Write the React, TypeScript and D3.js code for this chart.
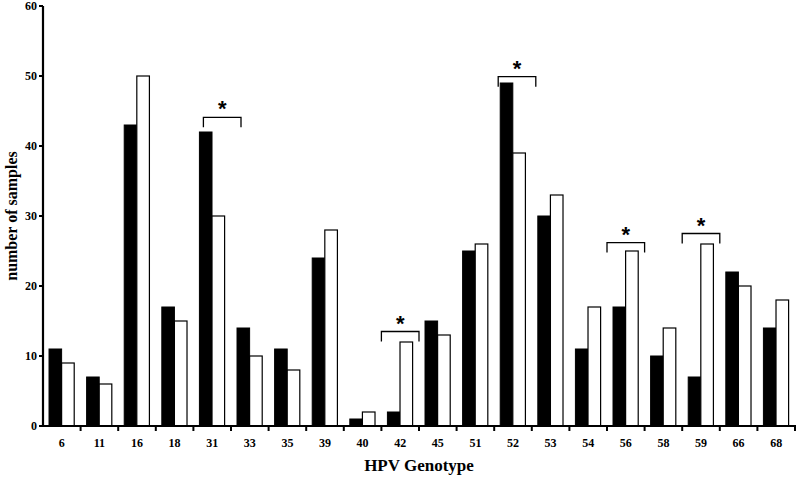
import React from "react";
import * as d3 from "d3";

const genotypes = ["6","11","16","18","31","33","35","39","40","42","45","51","52","53","54","56","58","59","66","68"];
const blackValues = [11,7,43,17,42,14,11,24,1,2,15,25,49,30,11,17,10,7,22,14];
const whiteValues = [9,6,50,15,30,10,8,28,2,12,13,26,39,33,17,25,14,26,20,18];
const yTicks = [0,10,20,30,40,50,60];
const sigGenotypes = ["31","42","52","56","59"];
const sigLevels = [44.1,13.5,49.9,26.2,27.5];
const sigShift = [10,0,4,0,0];

const W = 800, H = 477;
const left = 43, right = 795, top = 6, bottom = 426;

export default function App() {
  const x = d3.scaleBand<string>().domain(genotypes).range([left, right]).padding(0);
  const bw = x.bandwidth();
  const inner = d3.scaleBand<string>().domain(["a","b"]).range([bw * 0.16, bw * 0.83]).padding(0);
  const y = d3.scaleLinear().domain([0, 60]).range([bottom, top]);
  const font = "'Liberation Serif', 'Times New Roman', serif";

  return (
    <svg width={W} height={H} style={{ position: "absolute", left: 0, top: 0, background: "#fff" }} fontFamily={font}>
      {genotypes.map((g, i) => (
        <g key={g}>
          <rect x={(x(g) as number) + (inner("a") as number)} y={y(blackValues[i])} width={inner.bandwidth()} height={bottom - y(blackValues[i])} fill="#000" stroke="#000" strokeWidth={1} />
          <rect x={(x(g) as number) + (inner("b") as number)} y={y(whiteValues[i])} width={inner.bandwidth()} height={bottom - y(whiteValues[i])} fill="#fff" stroke="#000" strokeWidth={1.2} />
        </g>
      ))}
      {/* y axis */}
      <line x1={left} x2={left} y1={top} y2={bottom + 1} stroke="#000" strokeWidth={2.2} />
      {yTicks.map((t) => (
        <g key={t}>
          <line x1={left - 4} x2={left} y1={y(t)} y2={y(t)} stroke="#000" strokeWidth={2} />
          <text x={left - 6} y={y(t) + 4} textAnchor="end" fontSize={12} fontWeight="bold">{t}</text>
        </g>
      ))}
      {/* x axis */}
      <line x1={left - 4} x2={right + 1} y1={bottom} y2={bottom} stroke="#000" strokeWidth={2.2} />
      {genotypes.map((g) => (
        <g key={"t" + g}>
          <line x1={(x(g) as number) + bw} x2={(x(g) as number) + bw} y1={bottom} y2={bottom + 5} stroke="#000" strokeWidth={2} />
          <text x={(x(g) as number) + bw / 2} y={bottom + 21} textAnchor="middle" fontSize={12} fontWeight="bold">{g}</text>
        </g>
      ))}
      {/* significance brackets */}
      {sigGenotypes.map((g, i) => {
        const x0 = (x(g) as number) + sigShift[i];
        const x1b = x0 + bw;
        const yb = y(sigLevels[i]);
        return (
          <g key={"s" + g}>
            <path d={`M${x0},${yb + 10}V${yb}H${x1b}V${yb + 10}`} fill="none" stroke="#000" strokeWidth={1.3} />
            <text x={(x0 + x1b) / 2} y={yb - 1} textAnchor="middle" fontSize={22} fontWeight="bold" fontFamily="'Liberation Sans', Arial, sans-serif">*</text>
          </g>
        );
      })}
      <text transform={`translate(17,${(top + bottom) / 2}) rotate(-90)`} textAnchor="middle" fontSize={16} fontWeight="bold">number of samples</text>
      <text x={419} y={471} textAnchor="middle" fontSize={17} fontWeight="bold">HPV Genotype</text>
    </svg>
  );
}
